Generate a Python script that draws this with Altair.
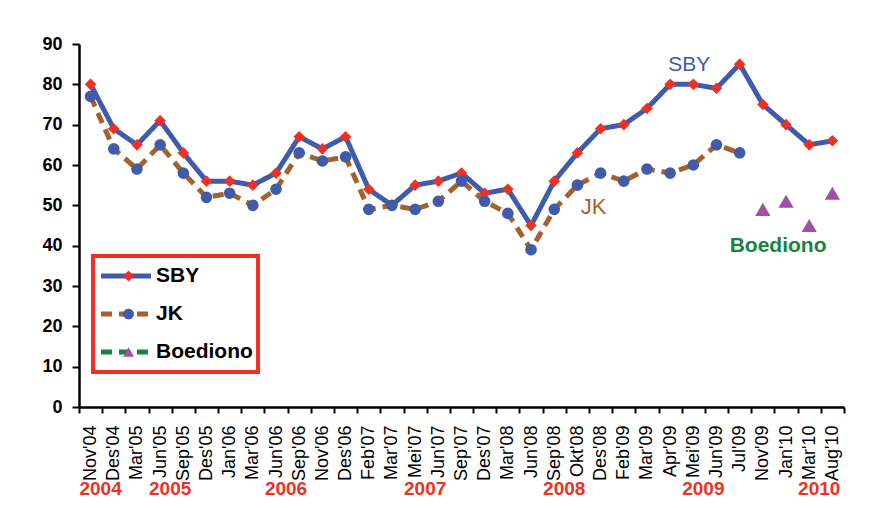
import altair as alt
import pandas as pd

categories = ["Nov'04", "Des'04", "Mar'05", "Jun'05", "Sep'05", "Des'05", "Jan'06", "Mar'06",
              "Jun'06", "Sep'06", "Nov'06", "Des'06", "Feb'07", "Mar'07", "Mei'07", "Jun'07",
              "Sep'07", "Des'07", "Mar'08", "Jun'08", "Sep'08", "Okt'08", "Des'08", "Feb'09",
              "Mar'09", "Apr'09", "Mei'09", "Jun'09", "Jul'09", "Nov'09", "Jan'10", "Mar'10", "Aug'10"]
sby = [80, 69, 65, 71, 63, 56, 56, 55, 58, 67, 64, 67, 54, 50, 55, 56, 58, 53, 54, 45, 56, 63,
       69, 70, 74, 80, 80, 79, 85, 75, 70, 65, 66]
jk = [77, 64, 59, 65, 58, 52, 53, 50, 54, 63, 61, 62, 49, 50, 49, 51, 56, 51, 48, 39, 49, 55,
      58, 56, 59, 58, 60, 65, 63, None, None, None, None]
boediono = [None] * 29 + [49, 51, 45, 53]

series_names = ["SBY", "JK", "Boediono"]
year_labels = ["2004", "2005", "2006", "2007", "2008", "2009", "2010"]
year_cats = ["Nov'04", "Jun'05", "Jun'06", "Mei'07", "Sep'08", "Mei'09", "Mar'10"]

ann_text = ["SBY", "JK", "Boediono"]
ann_cat = ["Mei'09", "Des'08", "Jan'10"]
ann_val = [84.8, 49.6, 40]

BLUE = "#3f5ba9"
RED = "#ee3124"
BROWN = "#a6612a"
GREEN = "#16843f"
PURPLE = "#a24fa6"
FONT = "Liberation Sans"

rows = []
for name, vals in zip(series_names, [sby, jk, boediono]):
    for c, v in zip(categories, vals):
        if v is not None:
            rows.append({"cat": c, "value": v, "series": name, "marker": name})
df = pd.DataFrame(rows)
df_lines = df[df["series"] != "Boediono"]
df_pts_main = df[df["series"] != "Boediono"]
df_pts_b = df[df["series"] == "Boediono"]

xscale = alt.Scale(domain=categories, type="band", paddingInner=0, paddingOuter=0)
yscale = alt.Scale(domain=[0, 90], nice=False)

x_main = alt.X("cat:N", sort=categories, scale=xscale,
               axis=alt.Axis(title=None, labelAngle=-90, labelFont=FONT, labelFontSize=18,
                             labelColor="black", tickBand="extent", tickSize=6, tickColor="black",
                             tickWidth=2, domainColor="black", domainWidth=2.5, labelPadding=12,
                             orient="bottom", zindex=1, grid=False, labelOverlap=False))
x_plain = alt.X("cat:N", sort=categories, scale=xscale, axis=None)
y_main = alt.Y("value:Q", scale=yscale,
               axis=alt.Axis(values=list(range(0, 91, 10)), title=None, grid=False,
                             labelFontSize=18, labelFontWeight="bold", labelFont=FONT,
                             labelColor="black", tickSize=7, tickWidth=2, tickColor="black",
                             domainColor="black", domainWidth=2.5, labelPadding=10, zindex=1))

line_legend = alt.Legend(title=None, orient="none", legendX=14, legendY=212,
                         symbolType="M-0.96,0H3.04", symbolSize=625, symbolStrokeWidth=5,
                         labelFont=FONT, labelFontSize=21, labelFontWeight="bold",
                         labelColor="black", rowPadding=8, padding=5, clipHeight=30,
                         strokeColor=RED, labelOffset=28)

lines = alt.Chart(df_lines).mark_line(strokeWidth=5, strokeCap="butt").encode(
    x=x_main,
    y=y_main,
    color=alt.Color("series:N", scale=alt.Scale(domain=series_names, range=[BLUE, BROWN, GREEN]),
                    legend=line_legend),
    strokeDash=alt.StrokeDash("series:N",
                              scale=alt.Scale(domain=series_names, range=[[1, 0], [11, 7], [11, 7]]),
                              legend=line_legend),
)

point_legend = alt.Legend(title=None, orient="none", legendX=39, legendY=217,
                          symbolSize=110, symbolStrokeWidth=0, labelFontSize=21,
                          labelFont=FONT, labelExpr="''", clipHeight=30,
                          rowPadding=8, padding=0)

shape_enc = alt.Shape("marker:N", scale=alt.Scale(domain=series_names,
                                                  range=["diamond", "circle", "triangle-up"]),
                      legend=point_legend)
fill_enc = alt.Fill("marker:N", scale=alt.Scale(domain=series_names, range=[RED, BLUE, PURPLE]),
                    legend=point_legend)

points = alt.Chart(df_pts_main).mark_point(filled=True, size=135, opacity=1).encode(
    x=x_plain, y=y_main, shape=shape_enc, fill=fill_enc,
)
points_b = alt.Chart(df_pts_b).mark_point(filled=True, size=230, opacity=1).encode(
    x=x_plain, y=y_main, shape=shape_enc, fill=fill_enc,
)

# year labels via a second bottom axis
expr = ""
for c, yl in zip(year_cats, year_labels):
    expr += 'datum.value === "%s" ? "%s" : ' % (c, yl)
expr += '""'

ann_df = pd.DataFrame({"cat": ann_cat, "value": ann_val, "text": ann_text})

ann_sby = alt.Chart(ann_df.iloc[[0]]).mark_text(
    font=FONT, fontSize=21, color=BLUE, dx=-4).encode(
    x=alt.X("cat:N", sort=categories, scale=xscale,
            axis=alt.Axis(title=None, orient="bottom", labelExpr=expr, labelAngle=0,
                          labelFont=FONT, labelFontSize=19, labelFontWeight="bold",
                          labelColor=RED, labelPadding=72, labelOffset=10, ticks=False,
                          domain=False, grid=False, labelOverlap=False, labelBound=False)),
    y=y_main,
    text="text:N",
)

ann_jk = alt.Chart(ann_df.iloc[[1]]).mark_text(
    font=FONT, fontSize=22, color=BROWN, dx=-7).encode(
    x=x_plain, y=y_main, text="text:N",
)
ann_b = alt.Chart(ann_df.iloc[[2]]).mark_text(
    font=FONT, fontSize=21, fontWeight="bold", color=GREEN, dx=-8).encode(
    x=x_plain, y=y_main, text="text:N",
)

chart = alt.layer(lines, points, points_b, ann_sby, ann_jk, ann_b).resolve_axis(
    x="independent"
).resolve_legend(shape="independent", fill="independent").properties(
    width=765, height=363, padding={"left": 71, "top": 36, "right": 20, "bottom": 91},
    autosize=alt.AutoSizeParams(type="none"),
    background="white"
).configure_view(stroke=None).configure_legend(strokeWidth=4)

chart.save("out.html", embed_options={"renderer": "svg", "actions": False})
